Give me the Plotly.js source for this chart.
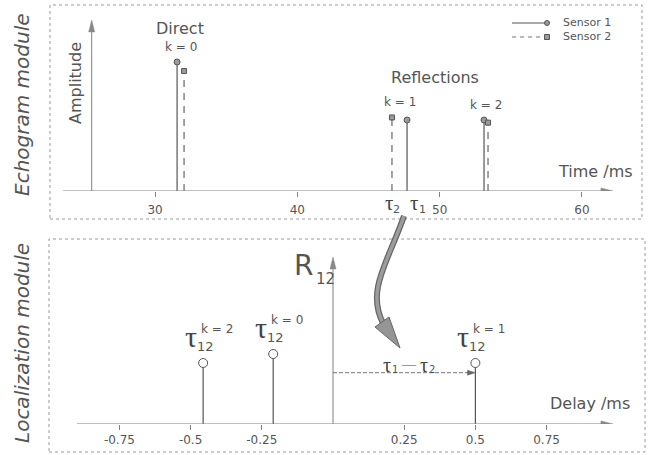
<!DOCTYPE html>
<html><head><meta charset="utf-8">
<script src="https://cdn.plot.ly/plotly-3.0.1.min.js"></script>
<style>html,body{margin:0;padding:0;background:#fff}#chart{width:648px;height:455px}</style>
</head><body><div id="chart"></div>
<script>
// ---------------- data ----------------
const echoTicks = [30, 40, 50, 60];
const reflectionOrder = ['k = 0', 'k = 1', 'k = 2'];
const seriesNames = ['Sensor 1', 'Sensor 2'];
const sensor1Time = [31.55, 47.71, 53.12];
const sensor1Amp  = [1.00, 0.55, 0.55];
const sensor2Time = [32.04, 46.65, 53.40];
const sensor2Amp  = [0.93, 0.57, 0.53];
const delayTicks = [-0.75, -0.5, -0.25, 0.25, 0.5, 0.75];
const delayTickText = ['-0.75', '-0.5', '-0.25', '0.25', '0.5', '0.75'];
const tdoa = [-0.21, 0.50, -0.456];      // tau12 for k = 0, 1, 2
const corrPeak = [0.70, 0.61, 0.61];     // R12 peak height for k = 0, 1, 2

// ---------------- helpers ----------------
const W = 648, H = 455;
const PX = x => x / W, PY = y => 1 - y / H;
const SANS = 'DejaVu Sans', SERIF = 'Liberation Serif';
const TXT = '#555', LINE = '#555', AX = '#808080';
function stems(xs, ys) {
  const X = [], Y = [];
  xs.forEach((x, i) => { X.push(x, x, null); Y.push(0, ys[i], null); });
  return {x: X, y: Y};
}
const s1 = stems(sensor1Time, sensor1Amp);
const s2 = stems(sensor2Time, sensor2Amp);
const r12 = stems(tdoa, corrPeak);

const traces = [
  {x: s1.x, y: s1.y, mode: 'lines', line: {color: LINE, width: 1.2}, xaxis: 'x', yaxis: 'y', hoverinfo: 'skip'},
  {x: s2.x, y: s2.y, mode: 'lines', line: {color: '#666', width: 1.2, dash: '7px,6px'}, xaxis: 'x', yaxis: 'y', hoverinfo: 'skip'},
  {x: sensor1Time, y: sensor1Amp, mode: 'markers', name: seriesNames[0],
   marker: {symbol: 'circle', size: 6, color: '#9a9a9a', line: {color: '#555', width: 1}}, xaxis: 'x', yaxis: 'y'},
  {x: sensor2Time, y: sensor2Amp, mode: 'markers', name: seriesNames[1],
   marker: {symbol: 'square', size: 5, color: '#9a9a9a', line: {color: '#555', width: 1}}, xaxis: 'x', yaxis: 'y'},
  {x: r12.x, y: r12.y, mode: 'lines', line: {color: LINE, width: 1.2}, xaxis: 'x2', yaxis: 'y2', hoverinfo: 'skip'},
  {x: tdoa, y: corrPeak, mode: 'markers', name: 'R12',
   marker: {symbol: 'circle', size: 9, color: '#fff', line: {color: '#555', width: 1}}, xaxis: 'x2', yaxis: 'y2'}
];

// ---------------- decorations ----------------
const shapes = [];
function line(xref, yref, x0, y0, x1, y1, dash, color, width) {
  shapes.push({type: 'line', xref, yref, x0, y0, x1, y1, line: {color: color || AX, width: width || 1, dash: dash || 'solid'}});
}
function head(xref, yref, x, y, path, color) {
  shapes.push({type: 'path', xref, yref, xsizemode: 'pixel', ysizemode: 'pixel', xanchor: x, yanchor: y,
    path, fillcolor: color || '#888', line: {color: color || '#888', width: 0.5}});
}
// panel frames
shapes.push({type: 'rect', xref: 'paper', yref: 'paper', x0: PX(50), x1: PX(642), y0: PY(219), y1: PY(5), line: {color: '#9a9a9a', width: 1, dash: 'dot'}});
shapes.push({type: 'rect', xref: 'paper', yref: 'paper', x0: PX(49), x1: PX(645), y0: PY(452), y1: PY(239), line: {color: '#9a9a9a', width: 1, dash: 'dot'}});
// echogram axes with arrows
line('x', 'y', 23.54, 0, 61.6, 0);
head('x', 'y', 62.18, 0, 'M 0,0 L -12,3 L -12,-3 Z');
line('x', 'y', 25.55, 0, 25.55, 1.28);
head('x', 'y', 25.55, 1.326, 'M 0,0 L -3,-12 L 3,-12 Z');
// localization axes with arrows
line('x2', 'y2', -0.899, 0, 0.95, 0);
head('x2', 'y2', 0.983, 0, 'M 0,0 L -12,3 L -12,-3 Z');
line('x2', 'y2', 0, 0, 0, 1.62);
head('x2', 'y2', 0, 1.67, 'M 0,0 L -3,-12 L 3,-12 Z');
// tau1 - tau2 arrow
line('x2', 'y2', 0, 0.513, tdoa[1] - 0.02, 0.513, '4px,2px', '#777');
head('x2', 'y2', tdoa[1], 0.513, 'M 0,0 L -8,2.5 L -8,-2.5 Z', '#666');
// big curved arrow from echogram to localization
const P = (x, y) => PX(x).toFixed(4) + ',' + PY(y).toFixed(4);
const curve = 'M ' + P(404, 216) + ' C ' + P(388, 262) + ' ' + P(366, 290) + ' ' + P(383, 323);
shapes.push({type: 'path', xref: 'paper', yref: 'paper', path: curve, line: {color: '#666', width: 6}});
shapes.push({type: 'path', xref: 'paper', yref: 'paper', path: curve, line: {color: '#9c9c9c', width: 3.5}});
shapes.push({type: 'path', xref: 'paper', yref: 'paper',
  path: 'M ' + P(400, 348) + ' L ' + P(389, 317) + ' L ' + P(375, 327) + ' Z',
  fillcolor: '#959595', line: {color: '#666', width: 1}});
// legend samples
line('paper', 'paper', PX(512), PY(23), PX(545), PY(23), 'solid', '#555');
line('paper', 'paper', PX(512), PY(37), PX(545), PY(37), '4px,4px', '#777');
shapes.push({type: 'circle', xref: 'paper', yref: 'paper', x0: PX(544.5), x1: PX(549.5), y0: PY(25.5), y1: PY(20.5), fillcolor: '#9a9a9a', line: {color: '#555', width: 1}});
shapes.push({type: 'rect', xref: 'paper', yref: 'paper', x0: PX(544.5), x1: PX(549.5), y0: PY(39.5), y1: PY(34.5), fillcolor: '#9a9a9a', line: {color: '#555', width: 1}});

// ---------------- annotations ----------------
const ann = [];
function txt(text, x, y, size, opt) {
  ann.push(Object.assign({text, x, y, xref: 'paper', yref: 'paper', showarrow: false,
    xanchor: 'center', yanchor: 'middle', font: {family: SANS, size, color: TXT}}, opt || {}));
}
function at(xref, yref, x, y, text, dx, dy, font) {
  ann.push({text, xref, yref, x, y, xshift: dx, yshift: dy, showarrow: false, font});
}
const TAU = s => ({family: SERIF, size: s, color: '#444'});
const SMALL = s => ({family: SANS, size: s, color: TXT});

txt('Echogram module', PX(22), PY(105), 20, {textangle: -90, font: {family: SANS, size: 20, color: TXT, style: 'italic'}});
txt('Localization module', PX(22), PY(343), 20, {textangle: -90, font: {family: SANS, size: 20, color: TXT, style: 'italic'}});
txt('Amplitude', PX(75), PY(83), 16, {textangle: -90});
txt('Direct', PX(180), PY(29), 16);
txt('Reflections', PX(435), PY(77), 16);
txt('Time /ms', PX(595), PY(171), 16);
txt('Delay /ms', PX(590), PY(403), 16);
txt(seriesNames.join('<br>'), PX(561), PY(30), 11, {xanchor: 'left', align: 'left'});
txt('R', PX(303), PY(265), 28);
txt('12', PX(325), PY(279), 15);

// reflection order labels above the echogram stems
reflectionOrder.forEach((k, i) => {
  at('x', 'y', (sensor1Time[i] + sensor2Time[i]) / 2, Math.max(sensor1Amp[i], sensor2Amp[i]), k, 0, 15, SMALL(12));
});
// tau_2, tau_1 under the k = 1 stems
at('x', 'y', sensor2Time[1], 0, 'τ', -3, -12, TAU(21));
at('x', 'y', sensor2Time[1], 0, '2', 5, -18, SMALL(11));
at('x', 'y', sensor1Time[1], 0, 'τ', 7, -12, TAU(21));
at('x', 'y', sensor1Time[1], 0, '1', 15, -18, SMALL(11));
// tau_12^k labels on the localization peaks
reflectionOrder.forEach((k, i) => {
  at('x2', 'y2', tdoa[i], corrPeak[i], 'τ', -12, 27, TAU(30));
  at('x2', 'y2', tdoa[i], corrPeak[i], '12', 2, 17, SMALL(13));
  at('x2', 'y2', tdoa[i], corrPeak[i], k, 14, 34, SMALL(12));
});
// tau_1 - tau_2 label above the delay arrow
const mid = tdoa[1] / 2, yArr = 0.513;
at('x2', 'y2', mid, yArr, 'τ', -17, 8, TAU(20));
at('x2', 'y2', mid, yArr, '1', -9, 3, SMALL(10));
at('x2', 'y2', mid, yArr, '—', 5, 8, TAU(14));
at('x2', 'y2', mid, yArr, 'τ', 20, 8, TAU(20));
at('x2', 'y2', mid, yArr, '2', 28, 3, SMALL(10));

const axCommon = {showgrid: false, zeroline: false, showline: false, fixedrange: true};
const layout = {
  width: W, height: H, margin: {l: 0, r: 0, t: 0, b: 0},
  paper_bgcolor: '#fff', plot_bgcolor: 'rgba(0,0,0,0)', showlegend: false,
  xaxis: Object.assign({}, axCommon, {domain: [PX(52), PX(640)], range: [22.76, 64.08], anchor: 'y',
    tickmode: 'array', tickvals: echoTicks, ticks: 'outside', ticklen: 5, tickcolor: AX,
    tickfont: {family: SANS, size: 12, color: TXT}, ticklabelstandoff: 3}),
  yaxis: Object.assign({}, axCommon, {domain: [PY(191), PY(10)], range: [0, 1.403], anchor: 'x', showticklabels: false, ticks: ''}),
  xaxis2: Object.assign({}, axCommon, {domain: [PX(52), PX(640)], range: [-0.9867, 1.078], anchor: 'y2',
    tickmode: 'array', tickvals: delayTicks, ticktext: delayTickText, ticks: 'outside', ticklen: 5, tickcolor: AX,
    tickfont: {family: SANS, size: 12, color: TXT}}),
  yaxis2: Object.assign({}, axCommon, {domain: [PY(424), PY(245)], range: [0, 1.79], anchor: 'x2', showticklabels: false, ticks: ''}),
  shapes, annotations: ann
};
Plotly.newPlot('chart', traces, layout, {displayModeBar: false, staticPlot: true});
</script></body></html>
